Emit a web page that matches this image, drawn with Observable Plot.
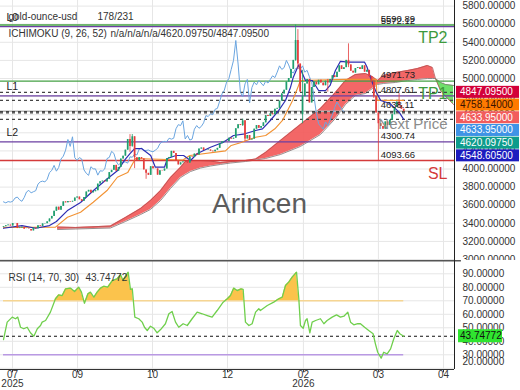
<!DOCTYPE html>
<html><head><meta charset="utf-8">
<script src="https://cdn.jsdelivr.net/npm/d3@7"></script>
<script src="https://cdn.jsdelivr.net/npm/@observablehq/plot@0.6"></script>
<style>
html,body{margin:0;padding:0;background:#fff;}
#chart{position:relative;width:520px;height:390px;overflow:hidden;background:#fff;}
#chart svg{display:block;}
</style></head><body><div id="chart"></div>
<script>
// ---------- DATA ----------
const titleText = "gold-ounce-usd";
const countText = "178/231";
const ichiText = "ICHIMOKU (9, 26, 52)";
const ichiValues = "n/a/n/a/n/a/4620.09750/4847.09500";
const rsiTitle = "RSI (14, 70, 30)";
const rsiLast = 43.74772;
const watermark = "Arincen";

// daily closes, bar 0 .. 174
const closes = [
3363,3373,3380,3370,3397,3398,3342,3348,3356,3335,
3336,3332,3316,3347,3339,3372,3365,3393,3396,3416,
3448,3476,3533,3578,3545,3587,3637,3626,3640,3634,
3643,3679,3690,3660,3643,3685,3746,3764,3736,3749,
3760,3833,3858,3866,3857,3887,3960,3985,4040,3976,
4017,4110,4142,4208,4326,4250,4356,4125,4095,4126,
4111,3990,3952,3930,4025,4002,4001,3932,3980,3977,
4000,4115,4128,4195,4172,4085,4045,4068,4078,4077,
4065,4135,4130,4165,4155,4220,4232,4205,4205,4210,
4197,4190,4208,4228,4280,4300,4305,4303,4340,4330,
4340,4445,4490,4480,4532,4332,4370,4320,4330,4440,
4480,4450,4470,4510,4590,4580,4610,4600,4660,4670,
4750,4830,4870,4960,5000,5100,5200,5420,5160,4850,
4800,4940,4990,4730,4900,4960,4930,4980,4950,4920,
4970,4950,4990,5030,5010,5070,5140,5100,5120,5200,
5150,5080,5060,5110,5120,5100,5140,5070,5090,5020,
4960,4800,4620,4500,4470,4440,4520,4480,4540,4600,
4680,4740,4700,4660,4633.95];
const firstOpen = 3355;
// [bar, high, low]
const wicks = [[55,4380,4185],[56,4381,4240],[57,4330,4004],[62,3990,3886],[104,4550,4470],[105,4530,4300],
  [127,5590.89,5190],[128,5540,5100],[130,5090,4500],[141,4990,4849],[150,5383,5120],[161,4980,4780],
  [163,4610,4093.66],[172,4834,4680]];
const openOverrides = [[130,4600]];

// Ichimoku lines (bar, value)
const tenkanBars = [0,8,14,20,23,28,33.5,39,45,49.5,53,55,57,60,64,66,70,71.3,75,78.3,81.3,84.3,90,95.6,100,105,109.6,112.6,116,119.6,122.6,124.8,126,128.3,131.3,134.3,137,140,142,144.3,146.5,150,157,158,160,162,164,168,172,174];
const tenkanVals = [3345,3375,3345,3375,3420,3545,3630,3760,3890,3980,4110,4170,4226,4226,4150,4020,4020,4116,4149,4149,4094,4171,4241,4296,4370,4389,4425,4444,4536,4646,4757,4904,5015,5150,4978,4978,4867,4867,4923,5088,5190,5180,5180,5130,4978,4850,4757,4724,4628,4549];
const kijunBars = [0,22.6,27.8,33.5,39,45,49.5,54,57.4,78,81,96.5,99,103,109.6,114,118,121.3,123.5,125.7,128,129.1,149,162,162.5,174];
const kijunVals = [3355,3357,3467,3522,3633,3762,3909,3960,4116,4100,4149,4200,4260,4290,4351,4370,4444,4536,4646,4757,4904,4978,4990,4990,4758,4758];
const cloudBars = [23.5,31.3,46.5,53,59.6,63.9,68.3,72.6,77,79.1,81.3,85.7,90,94.3,98.7,105.2,109.6,113.9,120.4,129.1,137.8,144.3,148.7,153,157.4,160.4,162.6,165.2,170.4,175.7,180,184.3,186.5,187.8,190,192.2,195.7];
const spanA = [3359,3354,3370,3464,3564,3652,3762,3906,4020,4083,4094,4094,4088,4072,4083,4094,4110,4182,4315,4492,4669,4845,4978,5044,5055,5022,4978,5033,5066,5088,5110,5144,5122,5000,4867,4801,4713];
const spanB = [3331,3337,3348,3420,3497,3553,3652,3785,3906,3939,3972,4011,4033,4050,4066,4083,4099,4116,4160,4249,4381,4558,4713,4812,4834,4890,4934,4945,4956,4978,4989,5000,5000,5000,4956,4934,4923];
const cloudCrossBar = 187.8;

// RSI (bar, value)
const rsiBars = [0,1.6,3.8,5.2,6.2,7.4,8.8,10.3,11.7,13.2,14.7,16.1,16.8,18.3,20.4,22.6,24,25.5,27,29.1,30.9,32.7,33.9,35.2,36.7,37.8,39.3,40.7,42.2,43.6,45.3,47.3,49.4,50.9,52,53,54.2,55.2,56,57.1,58.8,60.3,61.3,62.5,63.9,65.3,66.8,68.3,70.4,71.9,73.3,74.8,76.2,78.1,79.9,82,84.2,86.4,88.6,90.7,92.9,95.5,97.3,98.7,100.1,101.6,103.3,104.2,105.2,106.7,108.1,109.6,111,111.7,114.7,117.5,119.7,121.2,122.6,124,125.5,127.4,128.4,129.1,130.3,131.3,132,133.2,134.2,135.7,137.8,139.3,140.7,142.9,144.8,146.5,148,149.7,150.9,152.3,154,155.2,157,158.8,160.7,161.7,162.7,164.2,165.3,166.8,168.3,169.7,171.2,172.3,174];
const rsiVals = [41.3,54.2,57.9,56.7,57.9,50.4,49.3,50.4,46.3,43.8,49.3,51.7,54.2,55.4,61.6,71.5,74.4,73.9,78.9,79.4,76.9,80.1,76.4,68.2,75.2,76.4,72.7,76.4,79.4,80.8,80.1,85,86.3,89.3,85,88.2,91.2,78.4,78.9,57.9,56.7,54.2,50.4,48,51.2,49.7,46.3,48.7,53,60.4,62.1,54.2,50.4,53,51.7,56.7,61.6,60.4,59.1,57.9,62.8,69,71.5,73.9,79.4,77.6,78.9,78.5,54.2,51.7,53,61.6,64.1,62.8,66.5,69,71.5,72.7,81.3,83.8,87.5,91.2,71.5,51.7,49.7,55.4,56.7,46.3,54.2,55.4,56.7,53,55.4,57.9,59.6,57.9,58.6,61.6,54.2,52.2,53,53,50.4,48,45.6,38.1,31.9,27.5,31.9,30.7,34.4,41.9,48,45.6,43.74772];

// horizontal levels
const levelValues = [5590.89, 5572.12, 4971.73, 4807.61, 4638.11, 4300.74, 4093.66];
const levelNames  = ["TP2", "L0", "TP1", "L1", "Next Price", "L2", "SL"];
const levelColors = ["#45a045", "#6b3fa2", "#45a045", "#6b3fa2", "#b4b4b4", "#6b3fa2", "#d43a3a"];
const levelTextColors = ["#3d9a3d", "#222", "#3d9a3d", "#222", "#8c8c8c", "#222", "#d43a3a"];

// current indicator values (right axis boxes + dashed lines)
const curValues = [4847.095, 4758.14, 4633.95, 4633.95, 4620.0975, 4548.605];
const curColors = ["#d3003a", "#ff7a00", "#f25c5c", "#3f93e6", "#0d9c8c", "#1c1cbf"];
const curTextColors = ["#fff", "#3a1200", "#fff", "#fff", "#fff", "#fff"];

const priceTicks = [3000,3200,3400,3600,3800,4000,4200,4400,4600,4800,5000,5200,5400,5600,5800];
const rsiTicks = [30,40,50,60,70,80,90];
const tickBars = [3.9, 32.2, 64.8, 97.4, 130.4, 163, 191.3];
const tickLabels = ["07\n2025", "09", "10", "12", "02\n2026", "03", "04"];

// ---------- BUILD ----------
const FONT = '"Liberation Sans", Arial, sans-serif';
const xDomain = [-1.304, 196.087];
const priceDomain = [2988.95, 5861.88];
const rsiDomain = [19.11, 99.85];
const UP = "#1f9e6e", DN = "#e53c3c";
const labelBar = 164;

const wickMap = new Map(wicks.map(w => [w[0], w]));
const openMap = new Map(openOverrides);
const candles = closes.map((c, i) => {
  const o = openMap.has(i) ? openMap.get(i) : (i === 0 ? firstOpen : closes[i - 1]);
  let h = Math.max(o, c), l = Math.min(o, c);
  const w = wickMap.get(i);
  if (w) { h = Math.max(h, w[1]); l = Math.min(l, w[2]); }
  return {i, o, c, h, l};
});
const upC = candles.filter(d => d.c >= d.o), dnC = candles.filter(d => d.c < d.o);
const chikou = closes.map((c, i) => ({b: i - 26, v: c})).filter(d => d.b >= 0);
const tenkan = tenkanBars.map((b, k) => ({b, v: tenkanVals[k]}));
const kijun = kijunBars.map((b, k) => ({b, v: kijunVals[k]}));
const cloud = cloudBars.map((b, k) => ({b, a: spanA[k], s: spanB[k]}));
const cloudRed = cloud.filter(d => d.b <= cloudCrossBar);
const cloudGreen = cloud.filter(d => d.b >= cloudCrossBar);
const rsi = rsiBars.map((b, k) => ({b, v: rsiVals[k]}));
const levels = levelValues.map((v, k) => ({v, name: levelNames[k], color: levelColors[k], tcolor: levelTextColors[k]}));
const leftNames = levels.filter(d => /^L\d/.test(d.name));
const rightNames = levels.filter(d => !/^L\d/.test(d.name));
const ticks = tickBars.map((b, k) => ({b, label: tickLabels[k]}));
const lastBar = closes.length - 1;

const main = Plot.plot({
  width: 520, height: 260,
  marginLeft: 0, marginRight: 66, marginTop: 0, marginBottom: 0,
  style: {fontFamily: FONT, fontSize: "10px", color: "#333", background: "#fff"},
  x: {domain: xDomain, axis: null},
  y: {domain: priceDomain},
  marks: [
    Plot.ruleY(priceTicks, {stroke: "#e6e6e6"}),
    Plot.ruleX(tickBars, {stroke: "#e6e6e6"}),
    Plot.areaY(cloudRed, {x: "b", y1: "s", y2: "a", fill: "#f25a5a", fillOpacity: 0.92}),
    Plot.areaY(cloudGreen, {x: "b", y1: "s", y2: "a", fill: "#6fe06a"}),
    Plot.line(cloud, {x: "b", y: "a", stroke: "#b45252", strokeWidth: 0.8}),
    Plot.line(cloud, {x: "b", y: "s", stroke: "#7e7070", strokeWidth: 0.8}),
    Plot.text([watermark], {frameAnchor: "top-left", dx: 259, dy: 193, textAnchor: "middle", fontSize: 28, fill: "#5c5c5c"}),
    ...levels.map(d => Plot.ruleY([d.v], {stroke: d.color, strokeWidth: 1.3})),
    Plot.ruleY(curValues, {stroke: "#444", strokeDasharray: "3,3", strokeWidth: 1.3}),
    Plot.line(chikou, {x: "b", y: "v", stroke: "#6aa5e0", strokeWidth: 1}),
    Plot.line(kijun, {x: "b", y: "v", stroke: "#f29233", strokeWidth: 1.1}),
    Plot.line(tenkan, {x: "b", y: "v", stroke: "#2d2db3", strokeWidth: 1.2}),
    Plot.ruleX(upC, {x: "i", y1: "l", y2: "h", stroke: UP, strokeWidth: 0.8}),
    Plot.ruleX(upC, {x: "i", y1: "o", y2: "c", stroke: UP, strokeWidth: 1.7}),
    Plot.ruleX(dnC, {x: "i", y1: "l", y2: "h", stroke: DN, strokeWidth: 0.8}),
    Plot.ruleX(dnC, {x: "i", y1: "o", y2: "c", stroke: DN, strokeWidth: 1.7}),
    Plot.text(levels, {x: labelBar, y: "v", text: d => d.v.toFixed(2), textAnchor: "start", dy: -6, fontSize: 9.5, fill: "#222"}),
    Plot.text(leftNames, {y: "v", text: "name", frameAnchor: "left", textAnchor: "start", dx: 6, dy: -9, fontSize: 10.5, fill: "#222"}),
    ...rightNames.map(d => Plot.text([d], {y: "v", text: "name", frameAnchor: "right", textAnchor: "end", dx: -7, dy: 13, fontSize: d.name.length > 3 ? 15 : 16, fill: d.tcolor})),
    Plot.ruleX([xDomain[1]], {stroke: "#222"}),
    Plot.axisY(priceTicks, {anchor: "right", label: null, tickSize: 0, tickPadding: 8, tickFormat: d => d.toFixed(5), fontSize: 10}),
    Plot.text([titleText], {frameAnchor: "top-left", dx: 8, dy: 12, textAnchor: "start", fontSize: 10, fill: "#333"}),
    Plot.text([countText], {frameAnchor: "top-left", dx: 97, dy: 12, textAnchor: "start", fontSize: 10, fill: "#333"}),
    Plot.text([ichiText], {frameAnchor: "top-left", dx: 8, dy: 29, textAnchor: "start", fontSize: 10, fill: "#333"}),
    Plot.text([ichiValues], {frameAnchor: "top-left", dx: 110, dy: 29, textAnchor: "start", fontSize: 10, fill: "#333"})
  ]
});

// stacked value boxes on the price axis
{
  const yS = main.scale("y");
  const sel = d3.select(main);
  let prev = -Infinity;
  curValues.forEach((v, k) => {
    let py = Math.max(yS.apply(v), prev + 12.7);
    prev = py;
    sel.append("rect").attr("x", 456).attr("y", py - 6).attr("width", 63).attr("height", 12).attr("fill", curColors[k]);
    sel.append("text").attr("x", 460).attr("y", py).attr("dy", "0.35em").attr("fill", curTextColors[k])
      .attr("text-anchor", "start").attr("font-size", 10).attr("font-family", FONT).text(v.toFixed(5));
  });
}

const rsiPlot = Plot.plot({
  width: 520, height: 130,
  marginLeft: 0, marginRight: 66, marginTop: 0, marginBottom: 21,
  style: {fontFamily: FONT, fontSize: "10px", color: "#333", background: "#fff"},
  x: {domain: xDomain, axis: null},
  y: {domain: rsiDomain},
  marks: [
    Plot.ruleY([20, ...rsiTicks], {stroke: "#e6e6e6"}),
    Plot.ruleX(tickBars, {stroke: "#e6e6e6"}),
    Plot.areaY(rsi, {x: "b", y1: 70, y2: "v", fill: "#fbc34c"}),
    Plot.ruleY([70], {x1: 0, x2: lastBar, stroke: "#f6d592", strokeWidth: 1.6}),
    Plot.ruleY([30], {x1: 0, x2: lastBar, stroke: "#b999e3", strokeWidth: 1.6}),
    Plot.ruleY([rsiLast], {stroke: "#111", strokeDasharray: "3,3", strokeWidth: 1.1}),
    Plot.line(rsi, {x: "b", y: "v", stroke: "#6fcf4c", strokeWidth: 1.3}),
    Plot.ruleY([rsiDomain[0]], {x1: xDomain[0], x2: xDomain[1], stroke: "#333"}),
    Plot.ruleY([rsiDomain[1]], {x1: xDomain[0], x2: xDomain[1] + 3, stroke: "#555", strokeWidth: 2}),
    Plot.ruleX([xDomain[1]], {stroke: "#222"}),
    Plot.ruleX(tickBars, {y1: rsiDomain[0], y2: rsiDomain[0] - 2.5, stroke: "#333"}),
    Plot.axisY(rsiTicks, {anchor: "right", label: null, tickSize: 0, tickPadding: 8, tickFormat: d => d.toFixed(5), fontSize: 10}),
    Plot.text([20], {y: d => d, text: d => d.toFixed(5), frameAnchor: "right", textAnchor: "start", dx: 8, dy: -7, fontSize: 10, fill: "#333"}),
    Plot.text(ticks, {x: "b", text: "label", frameAnchor: "bottom", lineAnchor: "top", dy: 2, fontSize: 10, lineHeight: 0.9, fill: "#333"}),
    Plot.text([rsiTitle], {frameAnchor: "top-left", dx: 8, dy: 13, textAnchor: "start", fontSize: 10, fill: "#333"}),
    Plot.text([rsiLast.toFixed(5)], {frameAnchor: "top-left", dx: 85, dy: 13, textAnchor: "start", fontSize: 10, fill: "#333"})
  ]
});

{
  const yR = rsiPlot.scale("y");
  const sel = d3.select(rsiPlot);
  const y70 = yR.apply(70);
  sel.append("defs").append("clipPath").attr("id", "obclip")
    .append("rect").attr("x", -10).attr("y", -10).attr("width", 540).attr("height", y70 + 10);
  sel.selectAll('g[aria-label="area"]').attr("clip-path", "url(#obclip)");
  const py = yR.apply(rsiLast);
  sel.append("rect").attr("x", 458).attr("y", py - 6.5).attr("width", 44).attr("height", 13).attr("fill", "#2fe52f");
  sel.append("text").attr("x", 460).attr("y", py).attr("dy", "0.35em").attr("fill", "#111")
    .attr("text-anchor", "start").attr("font-size", 10).attr("font-family", FONT).text(rsiLast.toFixed(5));
}

const root = document.getElementById("chart");
root.appendChild(main);
root.appendChild(rsiPlot);
</script>
</body></html>
